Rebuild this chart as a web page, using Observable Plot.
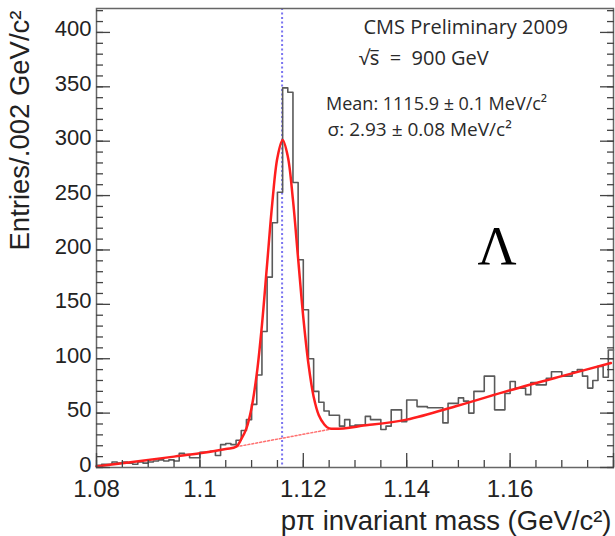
<!DOCTYPE html>
<html><head><meta charset="utf-8">
<script src="https://cdn.jsdelivr.net/npm/d3@7"></script>
<script src="https://cdn.jsdelivr.net/npm/@observablehq/plot@0.6"></script>
<style>
html,body{margin:0;padding:0;background:#fff;}
#chart svg{display:block;}
</style></head><body><div id="chart"></div>
<script>
// ---- data ----
const binLow = 1.08;          // GeV/c^2, first bin low edge
const binWidth = 0.001;       // GeV/c^2 (step width as drawn)
const counts = [
   2,   3,   3,   5,   4,   5,   4,   3,   5,   4,
   5,   6,   7,   6,   7,   6,  13,  12,   9,   9,
  14,  14,  15,  11,  21,  22,  21,  25,  34,  44,
  58,  85, 125, 175, 225, 253, 349, 345, 262, 191,
 145, 100,  70,  60,  52,  48,  48,  38,  44,  38,
  39,  39,  47,  44,  44,  35,  38,  53,  53,  42,
  62,  62,  56,  56,  55,  55,  55,  41,  59,  59,
  64,  61,  50,  70,  70,  84,  84,  53,  53,  68,
  79,  73,  73,  67,  78,  76,  76,  82,  88,  88,
  84,  84,  88,  90,  84,  73,  80,  93,  83, 108];
const fitMass = [1.080, 1.085, 1.090, 1.095, 1.100, 1.105, 1.107, 1.108, 1.109, 1.110,
                 1.111, 1.112, 1.113, 1.114, 1.115, 1.116, 1.117, 1.118, 1.119, 1.120,
                 1.121, 1.122, 1.123, 1.124, 1.125, 1.1325, 1.140, 1.150, 1.160, 1.170, 1.1795];
const fitValue = [1, 4, 7, 10, 13, 17, 19, 26, 36, 55,
                  86, 131, 187, 243, 285, 301, 286, 246, 192, 138,
                  95, 65, 48, 40, 36, 39, 44, 57, 71, 84, 96];
const bgMass = [1.107, 1.125];
const bgValue = [19, 35];
const meanMass = 1.1159;
const xMajor = [1.08, 1.10, 1.12, 1.14, 1.16, 1.18];
const xLabels = ["1.08", "1.1", "1.12", "1.14", "1.16", ""];
const yMajor = [0, 50, 100, 150, 200, 250, 300, 350, 400];

// ---- build tables ----
const hist = counts.map((c, i) => ({x: binLow + i * binWidth, y: c}));
hist.push({x: binLow + counts.length * binWidth, y: counts[counts.length - 1]});
const fit = fitMass.map((m, i) => ({x: m, y: fitValue[i]}));
const bg = bgMass.map((m, i) => ({x: m, y: bgValue[i]}));
const xMinor = d3.range(0, 21).map(i => 1.08 + i * 0.005);
const yMinor = d3.range(0, 43).map(i => i * 10);

const sans = "'Liberation Sans', Arial, Helvetica, sans-serif";
const annot = "'Open Sans', 'Noto Sans', sans-serif";
const axisColor = "#444";

const chart = Plot.plot({
  width: 615,
  height: 536,
  marginLeft: 96,
  marginRight: 2,
  marginTop: 8,
  marginBottom: 69,
  style: {fontFamily: sans, background: "#fff", color: "#222"},
  x: {domain: [1.08, 1.18]},
  y: {domain: [0, 422]},
  marks: [
    Plot.ruleX([meanMass], {stroke: "#7a74f0", strokeWidth: 2, strokeDasharray: "2,2.5"}),
    Plot.line(hist, {x: "x", y: "y", curve: "step-after", stroke: "#5a5a5a", strokeWidth: 1.6}),
    Plot.line(bg, {x: "x", y: "y", stroke: "#ff7070", strokeWidth: 1.5, strokeDasharray: "2,2"}),
    Plot.line(fit, {x: "x", y: "y", curve: "catmull-rom", stroke: "#ff1e1e", strokeWidth: 2.5}),
    Plot.frame({stroke: "#666", strokeWidth: 1.5}),
    // inward ticks
    Plot.axisX({ticks: xMinor, tickSize: -7, tickFormat: () => "", label: null, stroke: axisColor, strokeWidth: 1.3}),
    Plot.axisX({ticks: xMajor, tickSize: -14, tickFormat: () => "", label: null, stroke: axisColor, strokeWidth: 1.3}),
    Plot.axisY({ticks: yMinor, tickSize: -7, tickFormat: () => "", label: null, stroke: axisColor, strokeWidth: 1.3}),
    Plot.axisY({ticks: yMajor, tickSize: -14, tickFormat: () => "", label: null, stroke: axisColor, strokeWidth: 1.3}),
    Plot.axisY({anchor: "right", ticks: yMinor, tickSize: -7, tickFormat: () => "", label: null, stroke: axisColor, strokeWidth: 1.3}),
    Plot.axisY({anchor: "right", ticks: yMajor, tickSize: -14, tickFormat: () => "", label: null, stroke: axisColor, strokeWidth: 1.3}),
    // tick labels
    Plot.axisX({ticks: xMajor, tickSize: 0, tickPadding: 12, tickFormat: (d, i) => xLabels[i], label: null, fontSize: 24, fill: "#222"}),
    Plot.axisY({ticks: yMajor, tickSize: 0, tickPadding: 5, dy: -3, label: null, fontSize: 22, fill: "#222"}),
    // axis titles
    Plot.text(["pπ invariant mass (GeV/c²)"], {frameAnchor: "bottom-right", textAnchor: "end", lineAnchor: "bottom", dx: -2, dy: 62, fontSize: 27.5, fill: "#222"}),
    Plot.text(["Entries/.002 GeV/c²"], {frameAnchor: "top-left", rotate: -90, textAnchor: "end", lineAnchor: "middle", dx: -76, dy: 2, fontSize: 27.5, fill: "#222"}),
    // annotations
    Plot.text(["CMS Preliminary 2009"], {x: 1.1514, y: 404, textAnchor: "middle", fontSize: 20, fontFamily: annot, fill: "#2a2a2a"}),
    Plot.text(["√s\u0305  =  900 GeV"], {x: 1.1433, y: 376, textAnchor: "middle", fontSize: 20, fontFamily: annot, fill: "#2a2a2a"}),
    Plot.text(["Mean: 1115.9 ± 0.1 MeV/c²"], {x: 1.1244, y: 334, textAnchor: "start", fontSize: 18, fontFamily: annot, fill: "#2a2a2a"}),
    Plot.text(["σ: 2.93 ± 0.08 MeV/c²"], {x: 1.1247, y: 310, textAnchor: "start", fontSize: 19, fontFamily: annot, fill: "#2a2a2a"}),
    Plot.text(["Λ"], {x: 1.1575, y: 203, textAnchor: "middle", fontSize: 54, fontFamily: "'Liberation Serif', 'DejaVu Serif', serif", fill: "#000"})
  ]
});
document.getElementById("chart").appendChild(chart);
</script>
</body></html>
